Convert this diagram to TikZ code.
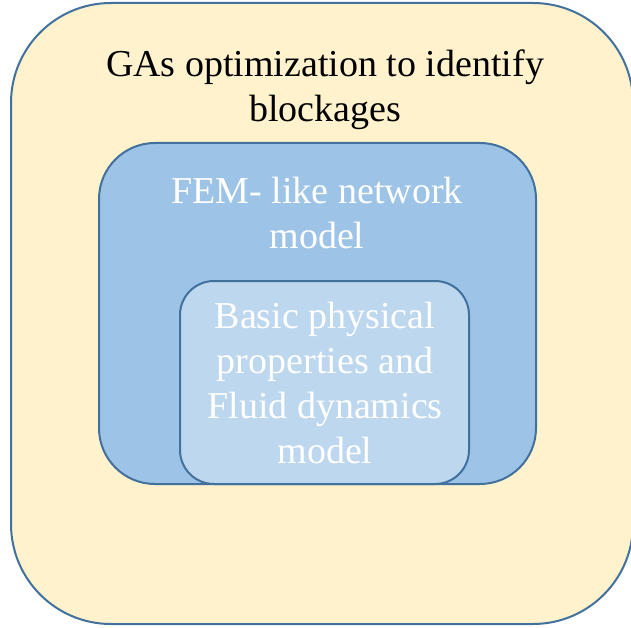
\documentclass[tikz,border=0pt]{standalone}
\usepackage{fontspec}
\setmainfont{Liberation Serif}
\definecolor{frame}{HTML}{41719C}
\definecolor{outerfill}{HTML}{FFF2CC}
\definecolor{midfill}{HTML}{9DC3E6}
\definecolor{innerfill}{HTML}{BDD7EE}
\tikzset{
  layer/.style={draw=frame, line width=2pt},
  label/.style={align=center, inner sep=0pt, anchor=base,
    font=\fontsize{38}{45}\selectfont}
}
\begin{document}
\begin{tikzpicture}[x=1pt, y=-1pt]
        \useasboundingbox (0,0) rectangle (631,628);

        % GA optimization layer
        \draw[layer, fill=outerfill, rounded corners=100pt] (11,3) rectangle (633,624);
        \node[label] (ga) at (325,122) {GAs optimization to identify\\blockages};

        % Network model
        \draw[layer, fill=midfill, rounded corners=56pt] (99,143) rectangle (536,484);
        \node[label, text=white] (fem) at (317,248) {FEM- like network\\model};

        % Physics model
        \draw[layer, fill=innerfill, rounded corners=34pt] (180,281) rectangle (469,484);
        \node[label, text=white] (phys) at (325,463) {Basic physical\\properties and\\Fluid dynamics\\model};
    \end{tikzpicture}
\end{document}
